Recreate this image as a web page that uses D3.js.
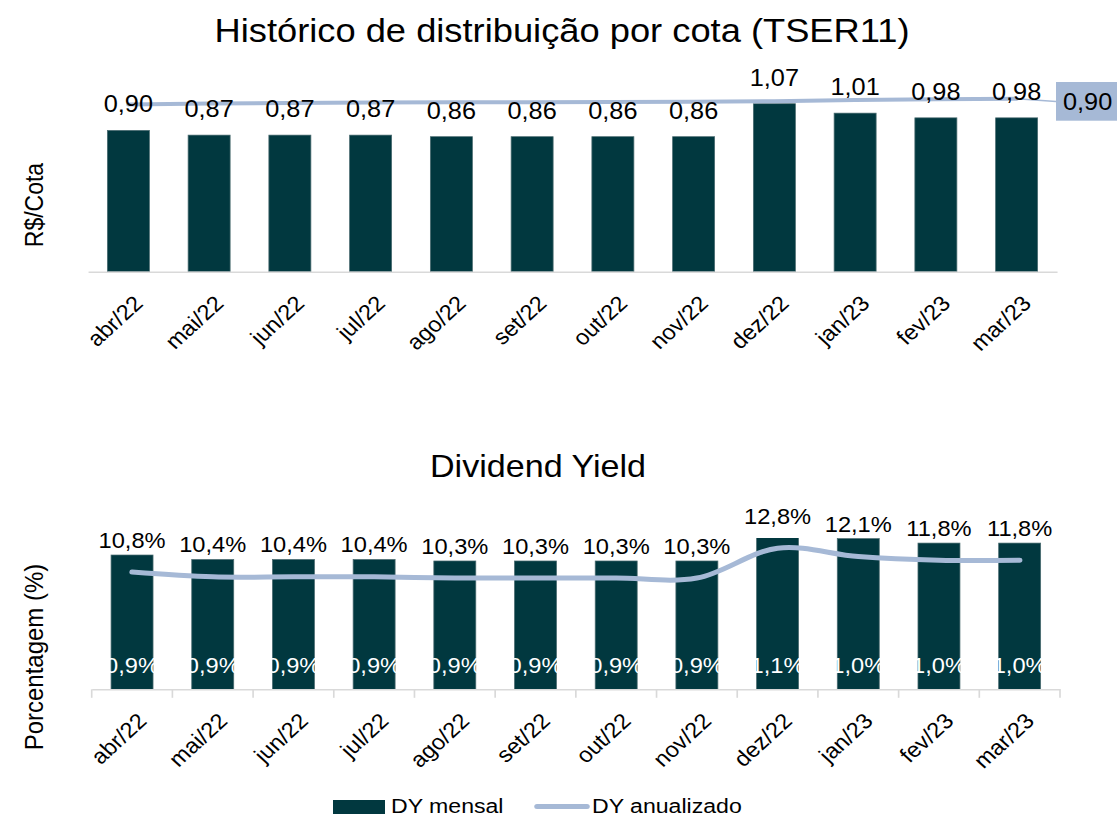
<!DOCTYPE html>
<html>
<head>
<meta charset="utf-8">
<script src="https://cdn.jsdelivr.net/npm/d3@7"></script>
<style>
  body { margin: 0; background: #fff; }
  svg { display: block; }
  text { font-family: "Liberation Sans", Arial, sans-serif; fill: #000; }
</style>
</head>
<body>
<svg id="chart" width="1117" height="819"></svg>
<script>
// data
const months = ["abr/22", "mai/22", "jun/22", "jul/22", "ago/22", "set/22",
                "out/22", "nov/22", "dez/22", "jan/23", "fev/23", "mar/23"];
const cotaValues = [0.90, 0.87, 0.87, 0.87, 0.86, 0.86, 0.86, 0.86, 1.07, 1.01, 0.98, 0.98];
const cotaMedia = [0.870, 0.875, 0.878, 0.880, 0.881, 0.882, 0.883, 0.884, 0.887, 0.893, 0.897, 0.900];
const cotaMediaLabel = "0,90";
const dyMensal = [0.90, 0.87, 0.87, 0.87, 0.86, 0.86, 0.86, 0.86, 1.07, 1.01, 0.98, 0.98];
const dyAnualizado = [10.8, 10.4, 10.4, 10.4, 10.3, 10.3, 10.3, 10.3, 12.8, 12.1, 11.8, 11.8];
const legendLabels = ["DY mensal", "DY anualizado"];

const barColor = "#01383f";
const lineColor = "#a6b9d6";
const axisColor = "#d9d9d9";

// the reference picture is a little wider than tall glyphs would give
const SX = 1.1;
const vx = x => x / SX;

const fmt2 = v => d3.format(".2f")(v).replace(".", ",");
const fmtPct = v => d3.format(".1f")(v).replace(".", ",") + "%";

const svg = d3.select("#chart");
const root = svg.append("g").attr("transform", `scale(${SX},1)`);

// ---------- top chart ----------
const base1 = 271.7, top1 = 83.3;
const x1 = d3.scaleBand().domain(months).range([vx(88), vx(1057)])
  .paddingInner(0.48).paddingOuter(0.24);
const y1 = d3.scaleLinear().domain([0, 1.2]).range([base1, top1]);
const y1b = d3.scaleLinear().domain([0, 0.98]).range([base1, top1]);

root.append("text")
  .attr("x", vx(562)).attr("y", 41.7)
  .attr("text-anchor", "middle")
  .style("font-size", "33px")
  .text("Histórico de distribuição por cota (TSER11)");

root.append("text")
  .attr("transform", `translate(${vx(43)},${205}) rotate(-90)`)
  .attr("text-anchor", "middle")
  .style("font-size", "23px")
  .text("R$/Cota");

root.append("g").selectAll("rect")
  .data(cotaValues)
  .enter()
  .append("rect")
  .attr("x", (d, i) => x1(months[i]))
  .attr("y", d => y1(d))
  .attr("width", x1.bandwidth())
  .attr("height", d => base1 - y1(d))
  .style("fill", barColor)
  .style("stroke", "#4a6b70")
  .style("stroke-width", 0.7);

const ax1 = root.append("g")
  .attr("transform", `translate(0,${base1})`)
  .call(d3.axisBottom(x1).tickSize(0).tickFormat(""));
ax1.select(".domain").style("stroke", axisColor).style("stroke-width", 1.5);

// line on secondary axis
const line1 = d3.line()
  .x((d, i) => x1(months[i]) + x1.bandwidth() / 2)
  .y(d => y1b(d));
root.append("path")
  .datum(cotaMedia)
  .attr("d", line1)
  .style("fill", "none")
  .style("stroke", lineColor)
  .style("stroke-width", 4)
  .style("stroke-linecap", "round");

// end label box with leader line
const lastX = x1(months[months.length - 1]) + x1.bandwidth() / 2;
const lastY = y1b(cotaMedia[cotaMedia.length - 1]);
root.append("line")
  .attr("x1", lastX).attr("y1", lastY)
  .attr("x2", vx(1056)).attr("y2", 101.5)
  .style("stroke", lineColor).style("stroke-width", 1.5);
root.append("rect")
  .attr("x", vx(1056)).attr("y", 82)
  .attr("width", vx(80)).attr("height", 38.7)
  .style("fill", lineColor);
root.append("text")
  .attr("x", vx(1063)).attr("y", 110)
  .style("font-size", "23px")
  .text(cotaMediaLabel);

root.append("g").selectAll("text")
  .data(cotaValues)
  .enter()
  .append("text")
  .attr("x", (d, i) => x1(months[i]) + x1.bandwidth() / 2)
  .attr("y", d => y1(d) - 18)
  .attr("text-anchor", "middle")
  .style("font-size", "23px")
  .text(d => fmt2(d));

root.append("g").selectAll("text")
  .data(months)
  .enter()
  .append("text")
  .attr("transform", d => `translate(${x1(d) + x1.bandwidth() / 2 + vx(16)},${base1 + 33}) rotate(-45)`)
  .attr("text-anchor", "end")
  .style("font-size", "21.5px")
  .text(d => d);

// ---------- bottom chart ----------
const base2 = 689.3, top2 = 538;
const x2 = d3.scaleBand().domain(months).range([vx(91.7), vx(1060)])
  .paddingInner(0.48).paddingOuter(0.24);
const y2 = d3.scaleLinear().domain([0, 1.014]).range([base2, top2]);
const y2b = d3.scaleLinear().domain([1, 13.65]).range([base2, top2]);

root.append("text")
  .attr("x", vx(538)).attr("y", 476.7)
  .attr("text-anchor", "middle")
  .style("font-size", "31px")
  .text("Dividend Yield");

root.append("text")
  .attr("transform", `translate(${vx(43)},${657}) rotate(-90)`)
  .attr("text-anchor", "middle")
  .style("font-size", "24px")
  .text("Porcentagem (%)");

root.append("clipPath").attr("id", "plot2")
  .append("rect")
  .attr("x", x2.range()[0]).attr("y", top2)
  .attr("width", x2.range()[1] - x2.range()[0])
  .attr("height", base2 - top2);

root.append("g").attr("clip-path", "url(#plot2)")
  .selectAll("rect")
  .data(dyMensal)
  .enter()
  .append("rect")
  .attr("x", (d, i) => x2(months[i]))
  .attr("y", d => y2(d))
  .attr("width", x2.bandwidth())
  .attr("height", d => base2 - y2(d))
  .style("fill", barColor)
  .style("stroke", "#4a6b70")
  .style("stroke-width", 0.7);

// axis with ticks between categories
const ax2 = root.append("g")
  .attr("transform", `translate(0,${base2})`)
  .call(d3.axisBottom(x2).tickSize(0).tickFormat(""));
ax2.select(".domain").style("stroke", axisColor).style("stroke-width", 1.5);
const gap = (x2.step() - x2.bandwidth()) / 2;
const bounds = months.map(m => x2(m) - gap).concat([x2.range()[1]]);
ax2.selectAll(".sep")
  .data(bounds)
  .enter()
  .append("line")
  .attr("class", "sep")
  .attr("x1", d => d).attr("x2", d => d)
  .attr("y1", 0).attr("y2", 8.5)
  .style("stroke", axisColor).style("stroke-width", 1.5);

// monthly labels in white at the foot of the bars
root.append("g").selectAll("text")
  .data(dyMensal)
  .enter()
  .append("text")
  .attr("x", (d, i) => x2(months[i]) + x2.bandwidth() / 2)
  .attr("y", base2 - 16.3)
  .attr("text-anchor", "middle")
  .style("font-size", "21.5px")
  .style("fill", "#fff")
  .text(d => fmtPct(d));

const line2 = d3.line()
  .x((d, i) => x2(months[i]) + x2.bandwidth() / 2)
  .y(d => y2b(d))
  .curve(d3.curveCatmullRom.alpha(0.5));
root.append("path")
  .datum(dyAnualizado)
  .attr("d", line2)
  .style("fill", "none")
  .style("stroke", lineColor)
  .style("stroke-width", 5)
  .style("stroke-linecap", "round");

root.append("g").selectAll("text")
  .data(dyAnualizado)
  .enter()
  .append("text")
  .attr("x", (d, i) => x2(months[i]) + x2.bandwidth() / 2)
  .attr("y", d => y2b(d) - 24.5)
  .attr("text-anchor", "middle")
  .style("font-size", "21.5px")
  .text(d => fmtPct(d));

root.append("g").selectAll("text")
  .data(months)
  .enter()
  .append("text")
  .attr("transform", d => `translate(${x2(d) + x2.bandwidth() / 2 + vx(16)},${base2 + 33}) rotate(-45)`)
  .attr("text-anchor", "end")
  .style("font-size", "21.5px")
  .text(d => d);

// ---------- legend ----------
const legend = root.append("g");
legend.append("rect")
  .attr("x", vx(333)).attr("y", 800)
  .attr("width", vx(52)).attr("height", 14)
  .style("fill", barColor);
legend.append("text")
  .attr("x", vx(391)).attr("y", 813.5)
  .style("font-size", "21px")
  .text(legendLabels[0]);
legend.append("line")
  .attr("x1", vx(537)).attr("x2", vx(587))
  .attr("y1", 806.5).attr("y2", 806.5)
  .style("stroke", lineColor).style("stroke-width", 5)
  .style("stroke-linecap", "round");
legend.append("text")
  .attr("x", vx(592)).attr("y", 813.5)
  .style("font-size", "21px")
  .text(legendLabels[1]);
</script>
</body>
</html>
